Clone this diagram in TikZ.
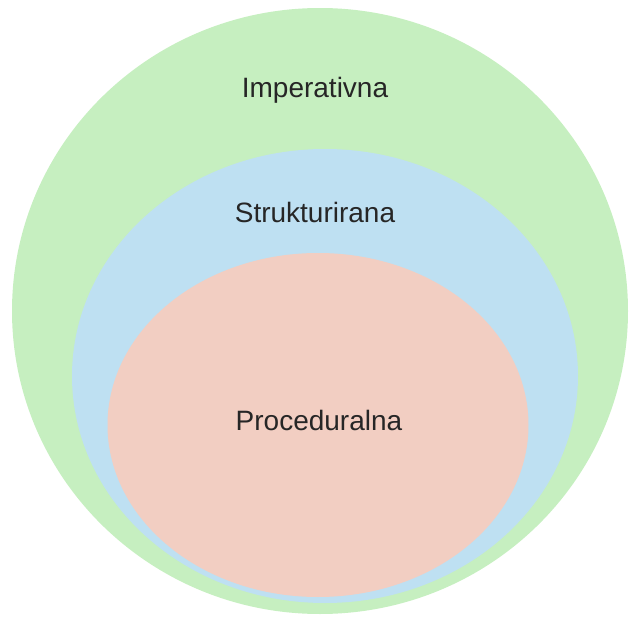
\documentclass[tikz,border=0pt]{standalone}
\usepackage{fontspec}
\setmainfont{Liberation Sans}
\usetikzlibrary{shapes.geometric,positioning}
\definecolor{impgreen}{HTML}{C6EFC0}
\definecolor{strblue}{HTML}{BEE0F2}
\definecolor{propink}{HTML}{F2CEC2}

\begin{document}
\begin{tikzpicture}[x=1pt,y=1pt,zona/.style={ellipse,inner sep=0pt},lab/.style={font=\fontsize{28}{32}\selectfont,text=black!85}]
    \useasboundingbox (0,0) rectangle (633,-621);
    
    \node[zona,fill=impgreen,minimum width=616pt,minimum height=606pt] (imp) at (320,-311) {};
    \node[zona,fill=strblue,minimum width=506pt,minimum height=454pt] (str) at (325,-376) {};
    \node[zona,fill=propink,minimum width=421pt,minimum height=344pt] (pro) at (318,-425) {};
    
    \node[lab] (limp) at (315,-90) {Imperativna};
    \node[lab] (lstr) at (315,-212) {Strukturirana};
    \node[lab] (lpro) at (319,-420) {Proceduralna};
    
\end{tikzpicture}
\end{document}
